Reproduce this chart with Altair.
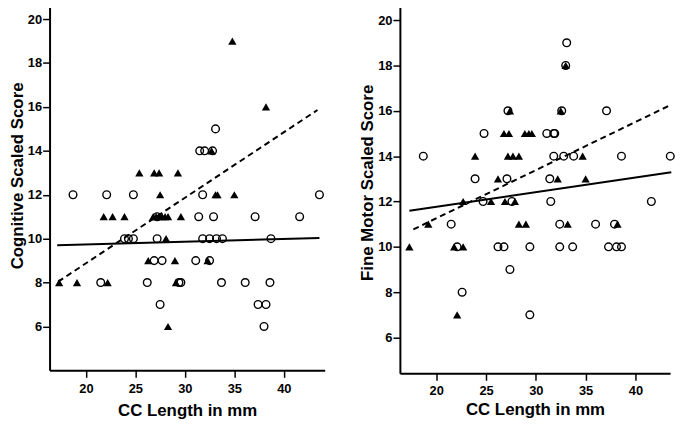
import altair as alt
import pandas as pd

# ---------------- Cognitive panel (left) ----------------
cog_tri_x = [34.8, 38.2, 32.7, 25.4, 26.9, 27.4, 29.3, 27.5, 33.1, 33.3, 35.0,
             21.8, 22.7, 23.9, 26.8, 27.1, 27.4, 27.7, 28.0, 28.3, 29.6,
             28.1, 26.3, 29.0, 32.3, 17.3, 19.1, 22.2, 29.1, 28.3]
cog_tri_y = [19, 16, 14, 13, 13, 13, 13, 12, 12, 12, 12,
             11, 11, 11, 11, 11, 11, 11, 11, 11, 11,
             10, 9, 9, 9, 8, 8, 8, 8, 6]
cog_circ_x = [33.1, 31.5, 32.0, 32.8, 18.7, 22.1, 24.8, 31.8, 43.6,
              27.2, 31.4, 32.9, 37.1, 41.6,
              23.9, 24.3, 24.8, 27.2, 31.8, 32.5, 33.2, 33.8, 38.7,
              26.9, 27.7, 31.1, 32.5,
              21.5, 26.2, 29.4, 29.6, 33.7, 36.1, 38.6,
              27.5, 37.4, 38.2, 38.0]
cog_circ_y = [15, 14, 14, 14, 12, 12, 12, 12, 12,
              11, 11, 11, 11, 11,
              10, 10, 10, 10, 10, 10, 10, 10, 10,
              9, 9, 9, 9,
              8, 8, 8, 8, 8, 8, 8,
              7, 7, 7, 6]
cog_solid_x = [17.1, 43.6]
cog_solid_y = [9.70, 10.03]
cog_dash_x = [17.2, 43.4]
cog_dash_y = [8.04, 15.86]

# ---------------- Fine motor panel (right) ----------------
mot_tri_x = [33.0, 27.4, 32.5, 26.8, 27.3, 28.9, 29.3, 29.6,
             23.9, 27.2, 27.7, 28.3, 34.7, 26.2, 32.2, 35.0,
             22.7, 25.5, 26.9, 27.9, 19.2, 28.3, 29.0, 33.2, 38.2,
             17.3, 21.8, 22.7, 22.1]
mot_tri_y = [18, 16, 16, 15, 15, 15, 15, 15,
             14, 14, 14, 14, 14, 13, 13, 13,
             12, 12, 12, 12, 11, 11, 11, 11, 11,
             10, 10, 10, 7]
mot_circ_x = [33.1, 33.0, 27.2, 32.6, 37.1, 24.8, 31.1, 31.8, 31.9,
              18.7, 31.8, 32.8, 33.8, 38.6, 43.5, 23.9, 27.1, 31.4,
              24.7, 27.6, 31.5, 41.6, 21.5, 32.4, 36.0, 37.9,
              22.1, 26.2, 26.8, 29.4, 32.4, 33.7, 37.3, 38.1, 38.6,
              27.4, 22.6, 29.4]
mot_circ_y = [19, 18, 16, 16, 16, 15, 15, 15, 15,
              14, 14, 14, 14, 14, 14, 13, 13, 13,
              12, 12, 12, 12, 11, 11, 11, 11,
              10, 10, 10, 10, 10, 10, 10, 10, 10,
              9, 8, 7]
mot_solid_x = [17.3, 43.6]
mot_solid_y = [11.59, 13.29]
mot_dash_x = [17.7, 43.5]
mot_dash_y = [10.77, 16.25]

x_ticks = [20, 25, 30, 35, 40]
y_ticks = [6, 8, 10, 12, 14, 16, 18, 20]
x_title = "CC Length in mm"
left_title = "Cognitive Scaled Score"
right_title = "Fine Motor Scaled Score"

FONT = "Liberation Sans"


def panel(tri_x, tri_y, circ_x, circ_y, sx, sy, dx, dy,
          xdom, ydom, w, h, ytitle, title_y, xlabpad, xtitlepad):
    xs = alt.Scale(domain=xdom, nice=False, zero=False)
    ys = alt.Scale(domain=ydom, nice=False, zero=False)
    xax = alt.Axis(values=x_ticks, title=x_title, titlePadding=xtitlepad,
                   labelPadding=xlabpad, tickSize=7)
    yax = alt.Axis(values=y_ticks, title=ytitle, titlePadding=1, labelPadding=1,
                   tickSize=7, titleY=title_y)

    tri = pd.DataFrame({"x": tri_x, "y": tri_y})
    circ = pd.DataFrame({"x": circ_x, "y": circ_y})
    solid = pd.DataFrame({"x": sx, "y": sy})
    dash = pd.DataFrame({"x": dx, "y": dy})

    base_circ = alt.Chart(circ).mark_point(
        shape="circle", filled=False, color="black", strokeWidth=1.4,
        size=60, opacity=1
    ).encode(x=alt.X("x:Q", scale=xs, axis=xax), y=alt.Y("y:Q", scale=ys, axis=yax))
    base_tri = alt.Chart(tri).mark_point(
        shape="triangle-up", filled=True, color="black", size=70, opacity=1
    ).encode(x=alt.X("x:Q", scale=xs), y=alt.Y("y:Q", scale=ys))
    line_s = alt.Chart(solid).mark_line(color="black", strokeWidth=2).encode(
        x=alt.X("x:Q", scale=xs), y=alt.Y("y:Q", scale=ys))
    line_d = alt.Chart(dash).mark_line(color="black", strokeWidth=2,
                                       strokeDash=[6, 4]).encode(
        x=alt.X("x:Q", scale=xs), y=alt.Y("y:Q", scale=ys))
    return alt.layer(line_s, line_d, base_circ, base_tri).properties(width=w, height=h)


left = panel(cog_tri_x, cog_tri_y, cog_circ_x, cog_circ_y,
             cog_solid_x, cog_solid_y, cog_dash_x, cog_dash_y,
             [16.33, 44.13], [4.0, 20.77], 278, 372, left_title, 175, 5, 8)
right = panel(mot_tri_x, mot_tri_y, mot_circ_x, mot_circ_y,
              mot_solid_x, mot_solid_y, mot_dash_x, mot_dash_y,
              [16.35, 43.48], [4.42, 20.79], 273, 375, right_title, 182, 4, 5)

chart = alt.hconcat(left, right, spacing=32).properties(
    padding={"top": -8, "bottom": 0, "left": 0, "right": 0},
    background="white"
).configure_view(stroke=None).configure_axis(
    grid=False,
    domainColor="black", domainWidth=2,
    tickColor="black", tickWidth=1.5,
    labelFont=FONT, labelFontSize=13, labelFontWeight="bold", labelColor="black",
    titleFont=FONT, titleFontSize=17, titleFontWeight="bold", titleColor="black",
)

chart.save("out.html", embed_options={"renderer": "svg", "actions": False})
